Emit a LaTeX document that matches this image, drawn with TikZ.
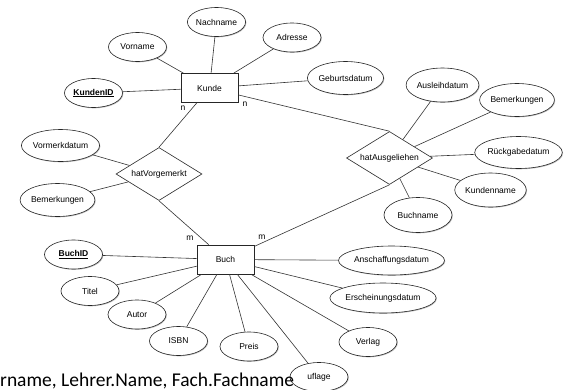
\documentclass[tikz,border=0pt]{standalone}
\usepackage{fontspec}
\setmainfont{Liberation Sans}
\newfontfamily\calibri{Carlito}
\usetikzlibrary{shapes.geometric,shadows}

\begin{document}
\begin{tikzpicture}[x=1pt,y=-1pt,
		font=\fontsize{8.5}{10}\selectfont,
		schatten/.style={drop shadow={shadow xshift=0.8pt,shadow yshift=-0.8pt,opacity=0.25,fill=black}},
		entitaet/.style={rectangle,draw=black!85,fill=white,line width=0.6pt,minimum width=57pt,minimum height=29pt,schatten},
		attribut/.style={ellipse,draw=black!85,fill=white,line width=0.6pt,minimum width=58pt,minimum height=29pt,inner sep=0pt,schatten},
		beziehung/.style={diamond,draw=black!85,fill=white,line width=0.6pt,minimum width=86pt,minimum height=53pt,inner sep=0pt,aspect=1.6},
		linie/.style={line width=0.6pt,black!80},
		kard/.style={inner sep=0pt}]

		\useasboundingbox (0,0) rectangle (571,389);

		%Kunde
		\node[entitaet] (kunde) at (209.5,88) {Kunde};
		\node[attribut] (vorname) at (137.5,47) {Vorname};
		\node[attribut] (nachname) at (216.5,22) {Nachname};
		\node[attribut] (adresse) at (292,37.5) {Adresse};
		\node[attribut] (kundenid) at (93.5,93) {\textbf{\underline{KundenID}}};
		\node[attribut,minimum width=67pt,minimum height=33pt] (geburtsdatum) at (345.5,78) {Geburtsdatum};

		%hatVorgemerkt
		\node[beziehung] (vorgemerkt) at (159,174) {hatVorgemerkt};
		\node[attribut,minimum width=67pt,minimum height=32pt] (vormerkdatum) at (60.5,145.5) {Vormerkdatum};
		\node[attribut,minimum width=69pt,minimum height=33pt] (bemerkungen1) at (57.5,200) {Bemerkungen};

		%hatAusgeliehen
		\node[beziehung] (ausgeliehen) at (389.5,158) {hatAusgeliehen};
		\node[attribut,minimum width=69pt,minimum height=34pt] (ausleihdatum) at (442.5,85) {Ausleihdatum};
		\node[attribut,minimum width=70pt,minimum height=33pt] (bemerkungen2) at (517,100) {Bemerkungen};
		\node[attribut,minimum width=87pt,minimum height=32pt] (rueckgabedatum) at (518.5,152.5) {Rückgabedatum};
		\node[attribut,minimum width=67pt,minimum height=34pt] (kundenname) at (490.5,190) {Kundenname};
		\node[attribut,minimum width=68pt,minimum height=35pt] (buchname) at (418,215) {Buchname};

		%Buch
		\node[entitaet] (buch) at (225.5,259.5) {Buch};
		\node[attribut] (buchid) at (73.5,254.5) {\textbf{\underline{BuchID}}};
		\node[attribut] (titel) at (90,291) {Titel};
		\node[attribut] (autor) at (137,314.5) {Autor};
		\node[attribut] (isbn) at (178.5,341) {ISBN};
		\node[attribut] (preis) at (249,346.5) {Preis};
		\node[attribut] (auflage) at (319,377) {uflage};
		\node[attribut] (verlag) at (368,342) {Verlag};
		\node[attribut,minimum width=100pt,minimum height=30pt] (erscheinungsdatum) at (383,298) {Erscheinungsdatum};
		\node[attribut,minimum width=99pt,minimum height=29pt] (anschaffungsdatum) at (391.5,260.5) {Anschaffungsdatum};

		%Linien
		\foreach \a in {vorname,nachname,adresse,kundenid,geburtsdatum}
			\draw[linie] (kunde) -- (\a);
		\foreach \a in {vormerkdatum,bemerkungen1}
			\draw[linie] (vorgemerkt) -- (\a);
		\foreach \a in {ausleihdatum,bemerkungen2,rueckgabedatum,kundenname,buchname}
			\draw[linie] (ausgeliehen) -- (\a);
		\foreach \a in {buchid,titel,autor,isbn,preis,auflage,verlag,erscheinungsdatum,anschaffungsdatum}
			\draw[linie] (buch) -- (\a);
		\draw[linie] (kunde) -- (vorgemerkt.north);
		\draw[linie] (kunde) -- (ausgeliehen.north);
		\draw[linie] (buch) -- (vorgemerkt.south);
		\draw[linie] (buch) -- (ausgeliehen.south);

		%Kardinalitaeten
		\node[kard] (n1) at (183,108) {n};
		\node[kard] (n2) at (245,104) {n};
		\node[kard] (m1) at (190,238) {m};
		\node[kard] (m2) at (262,237) {m};

		\node[anchor=base west,inner sep=0pt,font=\calibri\fontsize{19.5}{19.5}\selectfont] (zeile) at (0,386.5) {rname, Lehrer.Name, Fach.Fachname};
	\end{tikzpicture}
\end{document}
